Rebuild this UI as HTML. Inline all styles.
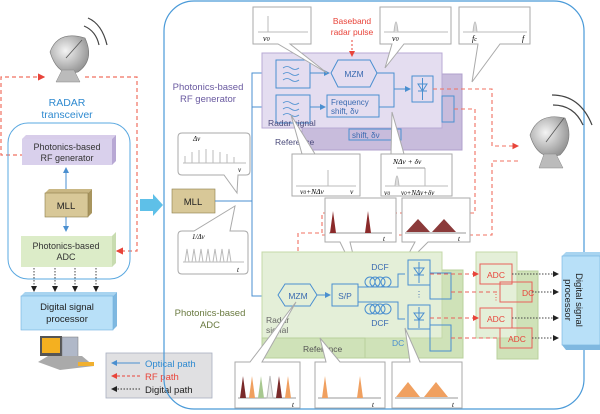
<!DOCTYPE html>
<html><head><meta charset="utf-8"><style>
html,body{margin:0;padding:0;background:#fff;}
svg{display:block;font-family:"Liberation Sans",sans-serif;}
.s{font-family:"Liberation Serif",serif;font-style:italic;}
</style></head><body>
<svg width="600" height="414" viewBox="0 0 600 414" xmlns="http://www.w3.org/2000/svg">
<defs>
<marker id="ab" markerWidth="6" markerHeight="6" refX="5" refY="3" orient="auto"><path d="M0,0L6,3L0,6z" fill="#4a8fd0"/></marker>
<marker id="ar" markerWidth="6" markerHeight="6" refX="5" refY="3" orient="auto"><path d="M0,0L6,3L0,6z" fill="#e8443a"/></marker>
<marker id="ak" markerWidth="6" markerHeight="6" refX="5" refY="3" orient="auto"><path d="M0,0L6,3L0,6z" fill="#222"/></marker>
<radialGradient id="dish" cx="0.4" cy="0.4" r="0.7"><stop offset="0" stop-color="#f4f4f4"/><stop offset="1" stop-color="#8a8a8a"/></radialGradient>
</defs>

<!-- Left red dashed loop -->
<g fill="none" stroke="#f07060" stroke-width="1.2" stroke-dasharray="4,3">
<path d="M24,155 H1 V77 H44" marker-end="url(#ar)"/>
<path d="M85,77 H137 V251 H117" marker-end="url(#ar)"/>
</g>
<!-- left dish -->
<g>
<path d="M50,52 Q58,30 85,38 Q95,60 78,72 Q58,78 50,52z" fill="url(#dish)" stroke="#777" stroke-width="0.6"/>
<path d="M62,70 L56,82 H80 L74,70z" fill="#bbb" stroke="#888" stroke-width="0.5"/>
<line x1="66" y1="58" x2="82" y2="40" stroke="#555" stroke-width="0.8"/>
<path d="M88,18 Q102,24 107,45" fill="none" stroke="#444" stroke-width="1.2"/>
<path d="M84,26 Q96,31 99,45" fill="none" stroke="#444" stroke-width="1.2"/>
</g>
<text x="67" y="106" fill="#2f8ad0" font-size="10.5" text-anchor="middle">RADAR</text>
<text x="67" y="118" fill="#2f8ad0" font-size="10.5" text-anchor="middle">transceiver</text>
<rect x="8" y="123" width="122" height="156" rx="20" fill="none" stroke="#5aa8e0" stroke-width="1"/>

<!-- left RF gen -->
<path d="M22,139 L26,135 H116 L112,139z" fill="#d8cdea"/><path d="M112,139 L116,135 V161 L112,165z" fill="#b8a8d4"/>
<rect x="22" y="139" width="90" height="26" fill="#d9d0ec"/>
<text x="67" y="150" font-size="9" text-anchor="middle" fill="#333">Photonics-based</text>
<text x="67" y="161" font-size="9" text-anchor="middle" fill="#333">RF generator</text>
<line x1="66" y1="190" x2="66" y2="168" stroke="#4a8fd0" marker-end="url(#ab)"/>
<path d="M45,193 L49,189 H92 L88,193z" fill="#c9b784"/><path d="M88,193 L92,189 V213 L88,217z" fill="#a8955e"/>
<rect x="45" y="193" width="43" height="24" fill="#d8c898" stroke="#8d7c4a" stroke-width="0.6"/>
<text x="66" y="209" font-size="9.5" text-anchor="middle" fill="#222">MLL</text>
<line x1="66" y1="217" x2="66" y2="231" stroke="#4a8fd0" marker-end="url(#ab)"/>
<path d="M112,236 L116,232 V263 L112,267z" fill="#c8dcb0"/>
<rect x="21" y="236" width="91" height="31" fill="#dcecc8"/>
<text x="66" y="249" font-size="9" text-anchor="middle" fill="#333">Photonics-based</text>
<text x="66" y="260" font-size="9" text-anchor="middle" fill="#333">ADC</text>
<g stroke="#444" stroke-dasharray="1.5,1.5" fill="none">
<line x1="34" y1="268" x2="34" y2="291" marker-end="url(#ak)"/><line x1="55" y1="268" x2="55" y2="291" marker-end="url(#ak)"/>
<line x1="75" y1="268" x2="75" y2="291" marker-end="url(#ak)"/><line x1="96" y1="268" x2="96" y2="291" marker-end="url(#ak)"/>
</g>
<path d="M21,296 L25,292 H117 L113,296z" fill="#a8d4f0"/><path d="M113,296 L117,292 V326 L113,330z" fill="#7fb8e0"/>
<rect x="21" y="296" width="92" height="34" fill="#b8e0f8" stroke="#6fb0e0" stroke-width="0.6"/>
<text x="67" y="310" font-size="9.5" text-anchor="middle" fill="#222">Digital signal</text>
<text x="67" y="322" font-size="9.5" text-anchor="middle" fill="#222">processor</text>
<rect x="40" y="336" width="22" height="20" fill="#555"/><rect x="42" y="338" width="18" height="15" fill="#f4b020"/>
<rect x="62" y="337" width="16" height="24" fill="#b0b8c8" stroke="#777" stroke-width="0.5"/>
<path d="M38,362 L48,356 H82 L94,366 L60,370z" fill="#aaa"/><rect x="78" y="362" width="16" height="4" fill="#f0b030"/>

<!-- legend -->
<rect x="106" y="353" width="106" height="45" fill="#e0e0e2" stroke="#a8b0c0" stroke-width="0.8"/>
<line x1="140" y1="363" x2="112" y2="363" stroke="#4a8fd0" marker-end="url(#ab)"/>
<text x="145" y="367" font-size="9.5" fill="#2f8ad0">Optical path</text>
<line x1="140" y1="376" x2="112" y2="376" stroke="#e8443a" stroke-dasharray="3,2" marker-end="url(#ar)"/>
<text x="145" y="380" font-size="9.5" fill="#e8443a">RF path</text>
<line x1="140" y1="389" x2="112" y2="389" stroke="#333" stroke-dasharray="1.5,1.5" marker-end="url(#ak)"/>
<text x="145" y="393" font-size="9.5" fill="#222">Digital path</text>

<path d="M140,199 H153 V194 L163,205 L153,216 V211 H140z" fill="#5ec0e8"/>

<rect x="164" y="1" width="420" height="408" rx="30" fill="none" stroke="#4a9ad8" stroke-width="1.2"/>
<text x="208" y="90" font-size="9.5" text-anchor="middle" fill="#6a5aa0">Photonics-based</text>
<text x="208" y="102" font-size="9.5" text-anchor="middle" fill="#6a5aa0">RF generator</text>
<text x="210" y="316" font-size="9.5" text-anchor="middle" fill="#6a7a40">Photonics-based</text>
<text x="210" y="328" font-size="9.5" text-anchor="middle" fill="#6a7a40">ADC</text>

<path d="M182,133 H246 Q250,133 250,137 V171 Q250,175 246,175 H238 L237,193 L224,175 H182 Q178,175 178,171 V137 Q178,133 182,133z" fill="#fff" stroke="#aaa"/>
<text x="193" y="141" font-size="7" class="s">Δν</text>
<g stroke="#bbb"><line x1="183" y1="163" x2="246" y2="163"/>
<line x1="185" y1="163" x2="185" y2="156"/><line x1="192" y1="163" x2="192" y2="152"/><line x1="199" y1="163" x2="199" y2="150"/><line x1="206" y1="163" x2="206" y2="149"/><line x1="213" y1="163" x2="213" y2="150"/><line x1="220" y1="163" x2="220" y2="152"/><line x1="227" y1="163" x2="227" y2="154"/><line x1="234" y1="163" x2="234" y2="157"/></g>
<text x="238" y="172" font-size="7" class="s">ν</text>
<rect x="172" y="189" width="43" height="24" fill="#d8c898" stroke="#8d7c4a" stroke-width="0.6"/>
<text x="193" y="205" font-size="9.5" text-anchor="middle" fill="#222">MLL</text>
<path d="M182,231 H194 L235,206 L230,231 H244 Q248,231 248,235 V270 Q248,274 244,274 H182 Q178,274 178,270 V235 Q178,231 182,231z" fill="#fff" stroke="#aaa"/>
<text x="192" y="239" font-size="7" class="s">1/Δν</text>
<path d="M185,262 L187,249 L189,262 M192,262 L194,249 L196,262 M199,262 L201,249 L203,262 M206,262 L208,249 L210,262 M213,262 L215,249 L217,262 M220,262 L222,249 L224,262 M227,262 L229,249 L231,262" fill="none" stroke="#bbb"/>
<line x1="183" y1="262" x2="244" y2="262" stroke="#bbb"/>
<text x="237" y="272" font-size="7" class="s">t</text>

<g stroke="#4a8fd0" fill="none">
<path d="M215,201 H252 V73 H273" marker-end="url(#ab)"/>
<path d="M252,107 H273" marker-end="url(#ab)"/>
<path d="M252,201 V296 H275" marker-end="url(#ab)"/>
</g>

<rect x="302" y="74" width="160" height="76" fill="#c8bcdc" stroke="#b0a0cc"/>
<rect x="262" y="53" width="180" height="75" fill="#e4ddf0" stroke="#b8aad4"/>
<text x="275" y="145" font-size="8.5" fill="#4a4a7a">Reference</text>
<rect x="349" y="129" width="52" height="11" fill="none" stroke="#4a8fd0"/><text x="352" y="138" font-size="8" fill="#3a6ab0">shift, δν</text>
<rect x="276" y="60" width="34" height="28" fill="none" stroke="#4a8fd0"/>
<rect x="276" y="95" width="34" height="28" fill="none" stroke="#4a8fd0"/>
<g stroke="#4a8fd0" fill="none" stroke-width="0.8">
<path d="M283,68 q4,-3 8,0 t8,0 M283,74 q4,-3 8,0 t8,0 M283,80 q4,-3 8,0 t8,0"/>
<path d="M283,103 q4,-3 8,0 t8,0 M283,109 q4,-3 8,0 t8,0 M283,115 q4,-3 8,0 t8,0"/>
</g>
<text x="268" y="126" font-size="8.5" fill="#4a4a7a">Radar signal</text>
<path d="M338,60 H370 L377,73 L370,87 H338 L331,73z" fill="#e4ddf0" stroke="#4a8fd0"/>
<text x="354" y="77" font-size="8.5" text-anchor="middle" fill="#3a6ab0">MZM</text>
<rect x="327" y="95" width="52" height="22" fill="#e4ddf0" stroke="#4a8fd0"/>
<text x="331" y="105" font-size="8" fill="#3a6ab0">Frequency</text><text x="331" y="114" font-size="8" fill="#3a6ab0">shift, δν</text>
<g stroke="#4a8fd0" fill="none">
<line x1="310" y1="73" x2="329" y2="73" marker-end="url(#ab)"/>
<line x1="310" y1="107" x2="325" y2="107" marker-end="url(#ab)"/>
<path d="M377,73 H394 V107 H379 M394,89 H410" />
</g>
<line x1="404" y1="89" x2="410" y2="89" stroke="#4a8fd0" marker-end="url(#ab)"/>
<rect x="412" y="76" width="21" height="26" fill="none" stroke="#4a8fd0"/>
<path d="M418,84 h9 l-4.5,7z M418,91 h9 M422.5,78 v22" fill="none" stroke="#4a8fd0"/>
<rect x="442" y="96" width="12" height="26" fill="none" stroke="#4a8fd0"/>
<line x1="352" y1="40" x2="352" y2="56" stroke="#e8443a" stroke-dasharray="2,2" marker-end="url(#ar)"/>
<text x="352" y="24" font-size="8.5" text-anchor="middle" fill="#e8443a">Baseband</text>
<text x="352" y="35" font-size="8.5" text-anchor="middle" fill="#e8443a">radar pulse</text>

<g fill="#fff" stroke="#aaa">
<path d="M253,7 H311 V44 H290 L327,73 L278,44 H253z"/>
<path d="M380,7 H451 V44 H404 L385,68 L392,44 H380z"/>
<path d="M459,7 H530 V44 H500 L472,82 L478,44 H459z"/>
<path d="M292,154 H360 V196 H292 V154 H302 L291,115 L315,154z"/>
<path d="M381,154 H452 V196 H381z M391,154 L392,112 L404,154z"/>
</g>
<g stroke="#bbb" fill="none">
<line x1="258" y1="32" x2="308" y2="32"/><line x1="268" y1="32" x2="268" y2="16"/>
<line x1="384" y1="32" x2="448" y2="32"/><path d="M394,32 q2,-20 4,0" fill="#ddd"/>
<line x1="463" y1="32" x2="527" y2="32"/><path d="M473,32 q2,-20 4,0" fill="#ddd"/>
<line x1="296" y1="186" x2="356" y2="186"/><line x1="328" y1="186" x2="328" y2="170"/>
<line x1="385" y1="186" x2="448" y2="186"/><path d="M395,186 q2,-20 4,0" fill="#ddd"/><line x1="425" y1="186" x2="425" y2="168"/><line x1="397" y1="168" x2="425" y2="168" stroke="#999"/>
</g>
<text x="263" y="41" font-size="8" class="s">ν<tspan font-size="6">0</tspan></text>
<text x="392" y="41" font-size="8" class="s">ν<tspan font-size="6">0</tspan></text>
<text x="472" y="41" font-size="8" class="s">f<tspan font-size="6">c</tspan></text><text x="522" y="41" font-size="8" class="s">f</text>
<text x="300" y="194" font-size="7.5" class="s">ν<tspan font-size="5.5">0</tspan>+NΔν</text><text x="350" y="194" font-size="7.5" class="s">ν</text>
<text x="393" y="164" font-size="7.5" class="s">NΔν + δν</text>
<text x="384" y="195" font-size="7.5" class="s">ν<tspan font-size="5.5">0</tspan></text><text x="401" y="195" font-size="7" class="s">ν<tspan font-size="5">0</tspan>+NΔν+δν</text>

<!-- red RF lines right -->
<g fill="none" stroke="#f07060" stroke-width="1.1" stroke-dasharray="4,3">
<path d="M433,89 H492 V146 H518" marker-end="url(#ar)"/>
<path d="M454,109 H475 V213 H322 V233 H298 V278" marker-end="url(#ar)"/>
<path d="M518,161 H492 V235 H322"/>
</g>
<!-- right dish -->
<g>
<path d="M530,135 Q538,112 565,118 Q575,140 560,155 Q538,162 530,135z" fill="url(#dish)" stroke="#777" stroke-width="0.6"/>
<path d="M544,154 L539,168 H563 L556,154z" fill="#bbb" stroke="#888" stroke-width="0.5"/>
<line x1="546" y1="142" x2="564" y2="118" stroke="#555" stroke-width="0.8"/>
<path d="M552,95 Q580,95 592,125" fill="none" stroke="#444" stroke-width="1.2"/>
<path d="M553,105 Q574,105 583,125" fill="none" stroke="#444" stroke-width="1.2"/>
</g>

<g fill="#fff" stroke="#aaa">
<path d="M325,198 H396 V242 H350 L360,283 L340,242 H325z"/>
<path d="M402,198 H470 V242 H428 L400,270 L415,242 H402z"/>
</g>
<line x1="329" y1="233" x2="392" y2="233" stroke="#999"/>
<path d="M330,233 l3,-22 l3,22z M365,233 l3,-22 l3,22z" fill="#8b2a2a"/>
<text x="383" y="241" font-size="7" class="s">t</text>
<line x1="405" y1="233" x2="466" y2="233" stroke="#999"/>
<path d="M406,232 l12,-13 l12,13z M432,232 l12,-13 l12,13z" fill="#8b3a3a"/>
<text x="458" y="241" font-size="7" class="s">t</text>

<rect x="365" y="270" width="98" height="88" fill="#cfe2b8" stroke="#b8d09c"/>
<rect x="262" y="252" width="180" height="86" fill="#e4efd8" stroke="#c4d8a8"/>
<rect x="262" y="338" width="103" height="20" fill="#cfe2b8" stroke="#b8d09c"/>
<text x="303" y="352" font-size="8.5" fill="#555">Reference</text>
<text x="392" y="346" font-size="8.5" fill="#4a8fd0">DC</text>
<text x="266" y="323" font-size="8.5" fill="#666">Radar</text><text x="266" y="333" font-size="8.5" fill="#666">signal</text>
<path d="M285,284 H310 L317,295 L310,306 H285 L278,295z" fill="#e4efd8" stroke="#4a8fd0"/>
<text x="298" y="299" font-size="8.5" text-anchor="middle" fill="#3a6ab0">MZM</text>
<line x1="317" y1="295" x2="330" y2="295" stroke="#4a8fd0" marker-end="url(#ab)"/>
<rect x="332" y="284" width="26" height="22" fill="#e4efd8" stroke="#4a8fd0"/>
<text x="345" y="299" font-size="8.5" text-anchor="middle" fill="#3a6ab0">S/P</text>
<text x="380" y="270" font-size="8.5" text-anchor="middle" fill="#3a6ab0">DCF</text>
<text x="380" y="326" font-size="8.5" text-anchor="middle" fill="#3a6ab0">DCF</text>
<g fill="none" stroke="#4a8fd0">
<circle cx="370" cy="282" r="5"/><circle cx="375" cy="282" r="5"/><circle cx="380" cy="282" r="5"/><circle cx="386" cy="282" r="5"/>
<circle cx="370" cy="309" r="5"/><circle cx="375" cy="309" r="5"/><circle cx="380" cy="309" r="5"/><circle cx="386" cy="309" r="5"/>
<path d="M358,287 H398 V274 H405 M358,302 H398 V319 H405"/>
<rect x="408" y="260" width="22" height="25" /><rect x="408" y="305" width="22" height="24"/>
<path d="M414,268 h10 l-5,7z M414,275 h10 M419,262 v21 M414,313 h10 l-5,7z M414,320 h10 M419,307 v21"/>
<rect x="430" y="273" width="21" height="26"/><rect x="430" y="325" width="21" height="26"/>
</g>
<text x="419" y="297" font-size="8" text-anchor="middle" fill="#3a6ab0">⋮</text>

<rect x="497" y="271" width="41" height="88" fill="#cfe2b8" stroke="#b8d09c"/>
<rect x="476" y="252" width="41" height="86" fill="#e4efd8" stroke="#c4d8a8"/>
<g fill="none" stroke="#e8605a">
<rect x="480" y="264" width="32" height="20"/><rect x="480" y="308" width="32" height="20"/>
<rect x="500" y="282" width="32" height="20"/><rect x="500" y="328" width="32" height="20"/>
</g>
<text x="496" y="278" font-size="8.5" text-anchor="middle" fill="#e8443a">ADC</text>
<text x="496" y="322" font-size="8.5" text-anchor="middle" fill="#e8443a">ADC</text>
<text x="522" y="296" font-size="8.5" fill="#e8443a">DC</text><text x="508" y="342" font-size="8.5" fill="#e8443a">ADC</text>
<text x="496" y="300" font-size="8" text-anchor="middle" fill="#e8443a">⋮</text>
<g fill="none" stroke="#e8605a" stroke-dasharray="4,3">
<line x1="430" y1="274" x2="478" y2="274" marker-end="url(#ar)"/>
<line x1="430" y1="318" x2="478" y2="318" marker-end="url(#ar)"/>
<line x1="451" y1="292" x2="500" y2="292"/><line x1="451" y1="338" x2="500" y2="338"/>
</g>
<g stroke="#444" stroke-dasharray="1.5,1.5" fill="none">
<line x1="512" y1="274" x2="558" y2="274" marker-end="url(#ak)"/>
<line x1="532" y1="292" x2="558" y2="292" marker-end="url(#ak)"/>
<line x1="512" y1="318" x2="558" y2="318" marker-end="url(#ak)"/>
<line x1="532" y1="338" x2="558" y2="338" marker-end="url(#ak)"/>
</g>
<path d="M562,256 L566,252 H600 V256z" fill="#a8d4f0"/>
<rect x="562" y="256" width="38" height="89" fill="#b8e0f8" stroke="#6fb0e0" stroke-width="0.6"/>
<path d="M562,345 L566,350 H600 V345z" fill="#7fb8e0"/>
<text transform="translate(576,300) rotate(90)" font-size="9.5" text-anchor="middle" fill="#222">Digital signal</text>
<text transform="translate(565,300) rotate(90)" font-size="9.5" text-anchor="middle" fill="#222">processor</text>

<g fill="#fff" stroke="#aaa">
<path d="M235,362 H250 L296,302 L262,362 H300 V408 H235z"/>
<path d="M315,362 H326 L320,338 L340,362 H385 V408 H315z"/>
<path d="M392,362 H410 L405,328 L420,362 H462 V408 H392z"/>
</g>
<line x1="238" y1="398" x2="296" y2="398" stroke="#999"/>
<path d="M240,398 l3,-22 l3,22z" fill="#7a2a2a"/><path d="M249,398 l3,-22 l3,22z" fill="#f0a060"/><path d="M258,398 l3,-22 l3,22z" fill="#a8c890"/><path d="M267,398 l3,-22 l3,22z" fill="#eee" stroke="#bbb"/><path d="M276,398 l3,-22 l3,22z" fill="#7a2a2a"/><path d="M285,398 l3,-22 l3,22z" fill="#f0a060"/>
<text x="292" y="407" font-size="7" class="s">t</text>
<line x1="318" y1="398" x2="381" y2="398" stroke="#999"/>
<path d="M322,398 l3,-22 l3,22z M357,398 l3,-22 l3,22z" fill="#f0a060"/>
<text x="372" y="407" font-size="7" class="s">t</text>
<line x1="395" y1="398" x2="458" y2="398" stroke="#999"/>
<path d="M396,397 l12,-15 l12,15z M424,397 l12,-15 l12,15z" fill="#f0a060"/>
<text x="452" y="407" font-size="7" class="s">t</text>
</svg>
</body></html>
